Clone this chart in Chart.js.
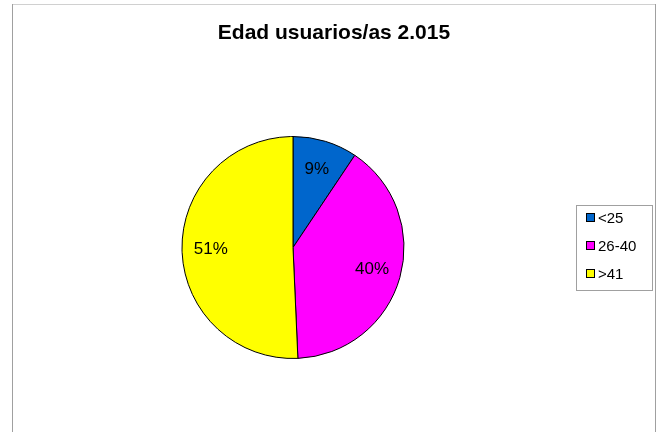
<!DOCTYPE html>
<html>
<head>
<meta charset="utf-8">
<script src="https://cdn.jsdelivr.net/npm/chart.js@4"></script>
<style>
  html, body { margin: 0; padding: 0; background: #fff; }
  #wrap { width: 656px; height: 432px; }
</style>
</head>
<body>
<div id="wrap"><canvas id="edadChart" width="656" height="432"></canvas></div>
<script>
const titulo = "Edad usuarios/as 2.015";
const grupos = ["<25", "26-40", ">41"];
const valores = [9.4, 39.9, 50.7];
const colores = ["#0066CC", "#FF00FF", "#FFFF00"];

const fuente = "'Liberation Sans', Arial, sans-serif";

// marco exterior y titulo (centrado sobre todo el marco, no sobre la tarta)
const marco = {
  id: "marco",
  beforeDraw(chart) {
    const ctx = chart.ctx;
    ctx.save();
    ctx.fillStyle = "#fff";
    ctx.fillRect(0, 0, chart.width, chart.height);
    ctx.lineWidth = 1;
    ctx.strokeStyle = "#d0d0d0";
    ctx.beginPath();
    ctx.moveTo(12, 4.5);
    ctx.lineTo(656, 4.5);
    ctx.stroke();
    ctx.strokeStyle = "#a0a0a0";
    ctx.beginPath();
    ctx.moveTo(12.5, 4);
    ctx.lineTo(12.5, 432);
    ctx.moveTo(655.5, 4);
    ctx.lineTo(655.5, 432);
    ctx.stroke();

    ctx.fillStyle = "#000";
    ctx.font = "bold 21px " + fuente;
    ctx.textAlign = "center";
    ctx.textBaseline = "alphabetic";
    ctx.fillText(titulo, 334, 39);
    ctx.restore();
  }
};

// porcentajes dentro de cada sector
const etiquetas = {
  id: "etiquetas",
  afterDatasetsDraw(chart) {
    const ctx = chart.ctx;
    const meta = chart.getDatasetMeta(0);
    const total = valores.reduce((a, b) => a + b, 0);
    ctx.save();
    ctx.fillStyle = "#000";
    ctx.font = "17px " + fuente;
    ctx.textAlign = "center";
    ctx.textBaseline = "middle";
    meta.data.forEach((arc, i) => {
      const p = arc.getProps(["x", "y", "startAngle", "endAngle", "outerRadius"], true);
      const mid = (p.startAngle + p.endAngle) / 2;
      const r = p.outerRadius * 0.74;
      const txt = Math.round(valores[i] / total * 100) + "%";
      ctx.fillText(txt, p.x + Math.cos(mid) * r, p.y + Math.sin(mid) * r);
    });
    ctx.restore();
  }
};

// leyenda con recuadro
const leyenda = {
  id: "leyenda",
  afterDraw(chart) {
    const ctx = chart.ctx;
    ctx.save();
    ctx.strokeStyle = "#a0a0a0";
    ctx.lineWidth = 1;
    ctx.strokeRect(576.5, 205.5, 76, 85);
    ctx.font = "15px " + fuente;
    ctx.textBaseline = "middle";
    ctx.textAlign = "left";
    grupos.forEach((g, i) => {
      const y = 218 + i * 28;
      ctx.fillStyle = colores[i];
      ctx.fillRect(586, y - 4, 8, 8);
      ctx.strokeStyle = "#000";
      ctx.strokeRect(586.5, y - 4.5, 8, 8);
      ctx.fillStyle = "#000";
      ctx.fillText(g, 598, y + 1);
    });
    ctx.restore();
  }
};

new Chart(document.getElementById("edadChart"), {
  type: "pie",
  data: {
    labels: grupos,
    datasets: [{
      data: valores,
      backgroundColor: colores,
      borderColor: "#000",
      borderWidth: 1
    }]
  },
  options: {
    responsive: false,
    animation: false,
    layout: { padding: { left: 12, right: 82, top: 136, bottom: 73 } },
    plugins: {
      legend: { display: false },
      tooltip: { enabled: false },
      title: { display: false }
    }
  },
  plugins: [marco, etiquetas, leyenda]
});
</script>
</body>
</html>
